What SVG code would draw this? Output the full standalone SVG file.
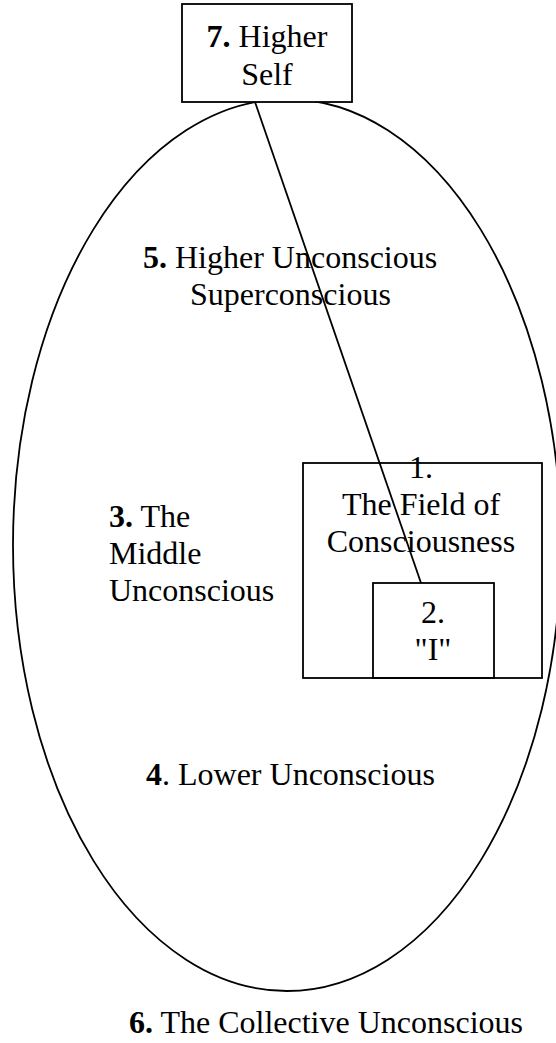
<svg xmlns="http://www.w3.org/2000/svg" width="556" height="1043" viewBox="0 0 556 1043">
<style>
text{font-family:"Liberation Serif","Times New Roman",serif;font-size:32px;fill:#000}
.b{font-weight:bold}
.shape{fill:none;stroke:#000;stroke-width:1.8}
.box{fill:#fff;stroke:#000;stroke-width:1.8}
.c{text-anchor:middle}
</style>
<rect width="556" height="1043" fill="#fff"/>
<g id="psyche">
<ellipse class="shape" cx="287" cy="545" rx="274" ry="446"/>
</g>
<g id="higher-self">
<rect class="box" x="182" y="4" width="170" height="98"/>
<text x="267" y="47" class="c"><tspan class="b">7.</tspan> Higher</text>
<text x="267" y="85" class="c">Self</text>
</g>
<g id="higher-unconscious">
<text x="143" y="268"><tspan class="b">5.</tspan> Higher Unconscious</text>
<text x="190" y="305">Superconscious</text>
</g>
<g id="middle-unconscious">
<text x="109" y="527"><tspan class="b">3.</tspan> The</text>
<text x="109" y="564">Middle</text>
<text x="109" y="601">Unconscious</text>
</g>
<g id="field">
<rect class="shape" x="303" y="463" width="239" height="215"/>
<text x="421" y="478" class="c">1.</text>
<text x="421" y="515" class="c">The Field of</text>
<text x="421" y="552" class="c">Consciousness</text>
</g>
<g id="i">
<rect class="shape" x="373" y="583" width="121" height="95"/>
<text x="433" y="623" class="c">2.</text>
<text x="433" y="660" class="c">"I"</text>
</g>
<g id="lower-unconscious">
<text x="146" y="785"><tspan class="b">4</tspan>. Lower Unconscious</text>
</g>
<g id="collective-unconscious">
<text x="129" y="1033"><tspan class="b">6.</tspan> The Collective Unconscious</text>
</g>
<g id="connectors">
<line class="shape" x1="255" y1="102" x2="421" y2="583"/>
</g>
</svg>
